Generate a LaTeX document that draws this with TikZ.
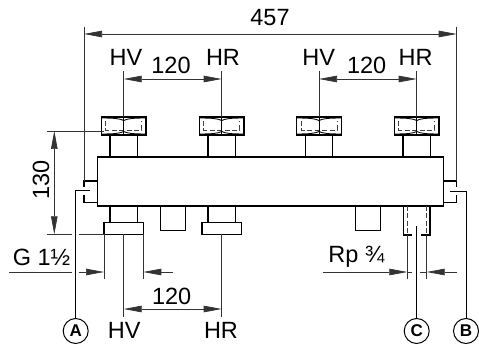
\documentclass[tikz,border=0pt]{standalone}
\usepackage{fontspec}
\setmainfont{Liberation Sans}
\usetikzlibrary{arrows.meta}
\definecolor{DIMgray}{gray}{0.2}
\tikzset{
	body/.style={black, line width=1.3pt},
	hidden/.style={black!75, line width=0.7pt, dash pattern=on 5pt off 2.5pt},
	nutline/.style={black, line width=0.9pt},
	dim/.style={DIMgray, line width=0.7pt},
	dimtip/.style={dim, {Stealth[length=18pt, width=6.5pt, inset=0pt]}-{Stealth[length=18pt, width=6.5pt, inset=0pt]}},
	righttip/.style={dim, -{Stealth[length=18pt, width=6.5pt, inset=0pt]}},
	leader/.style={black, line width=1pt},
	label/.style={font=\fontsize{23.5}{23.5}\selectfont, inner sep=0pt},
	portmark/.style={circle, draw=black, line width=1pt, minimum size=25pt, inner sep=0pt, font=\fontsize{17}{17}\selectfont\bfseries}
}
\begin{document}
\begin{tikzpicture}[x=1pt, y=-1pt]
	\useasboundingbox (0, 0) rectangle (479, 344);
	\def\ytop{157}
	\def\ybot{206}
	% manifold body
	\draw[body] (97.5, \ytop) rectangle (443.3, \ybot);
	% upper connections with nuts
	\foreach \cx in {123.7, 221.7, 319, 416.7}{
		\draw[body] (\cx - 13.7, \ytop) -- (\cx - 13.7, 135);
		\draw[body] (\cx + 13.7, \ytop) -- (\cx + 13.7, 135);
		\draw[hidden] (\cx - 18, 121) -- (\cx - 18, 130) -- (\cx + 18, 130) -- (\cx + 18, 121);
		\draw[nutline] (\cx - 22, 118) .. controls (\cx - 10, 118) and (\cx - 4, 118.5) .. (\cx, 120.5);
		\draw[nutline] (\cx + 22, 118) .. controls (\cx + 10, 118) and (\cx + 4, 118.5) .. (\cx, 120.5);
		\draw[nutline] (\cx - 22, 134) .. controls (\cx - 10, 134) and (\cx - 4, 133.5) .. (\cx, 131.5);
		\draw[nutline] (\cx + 22, 134) .. controls (\cx + 10, 134) and (\cx + 4, 133.5) .. (\cx, 131.5);
		\draw[nutline] (\cx, 117) -- (\cx, 135);
		\draw[body] (\cx - 22.4, 117) rectangle (\cx + 22.4, 135);
	}
	% lower connections with flange
	\foreach \cx in {123.7, 221.7}{
		\draw[body] (\cx - 13.7, \ybot) -- (\cx - 13.7, 222.3);
		\draw[body] (\cx + 13.7, \ybot) -- (\cx + 13.7, 222.3);
		\draw[body] (\cx - 19.6, 222.3) rectangle (\cx + 19.6, 234.3);
	}
	% closed stubs
	\foreach \sx in {160.7, 355.7}{
		\draw[body] (\sx, \ybot) -- (\sx, 230.3) -- (\sx + 24.5, 230.3) -- (\sx + 24.5, \ybot);
	}
	% port C
	\draw[body] (412, 235) -- (403.7, 235) -- (403.7, \ybot);
	\draw[body] (421, 235) -- (430, 235) -- (430, \ybot);
	\draw[hidden] (407.3, \ybot) -- (407.3, 235);
	\draw[hidden] (426.4, \ybot) -- (426.4, 235);
	% side sockets
	\draw[body] (97.5, 181) -- (84, 181) -- (84, 187);
	\draw[body] (84, 195) -- (84, 202.7) -- (97.5, 202.7);
	\draw[body] (443.3, 181) -- (456.7, 181) -- (456.7, 187);
	\draw[body] (456.7, 195) -- (456.7, 202.7) -- (443.3, 202.7);
	% overall width
	\draw[dim] (84, 26.7) -- (84, 181);
	\draw[dim] (456.7, 26.7) -- (456.7, 181);
	\draw[dimtip] (84, 34) -- (456.7, 34);
	\node[label] (total) at (270, 18) {457};
	% upper spacing
	\foreach \cx in {123.7, 221.7, 319, 416.7}{
		\draw[dim] (\cx, 70.7) -- (\cx, 117);
	}
	\draw[dimtip] (123.7, 79) -- (221.7, 79);
	\draw[dimtip] (319, 79) -- (416.7, 79);
	\node[label] (spaceA) at (171, 65) {120};
	\node[label] (spaceB) at (366.7, 65) {120};
	\node[label] (hvA) at (126, 57.5) {HV};
	\node[label] (hrA) at (223, 57.5) {HR};
	\node[label] (hvB) at (318.7, 57.5) {HV};
	\node[label] (hrB) at (415.7, 57.5) {HR};
	% height
	\draw[dim] (46.5, 131) -- (104, 131);
	\draw[dim] (46.5, 234.3) -- (71.7, 234.3);
	\draw[dim] (79.3, 234.3) -- (104, 234.3);
	\draw[dimtip] (54.3, 131) -- (54.3, 234.3);
	\node[label, rotate=90] (height) at (41, 180) {130};
	% G 1 1/2
	\draw[dim] (104, 234.3) -- (104, 279);
	\draw[dim] (143.3, 234.3) -- (143.3, 279);
	\draw[dim] (9, 272) -- (72, 272);
	\draw[righttip] (79.3, 272) -- (104, 272);
	\draw[righttip] (173, 272) -- (143.3, 272);
	\node[label] (thread) at (41.5, 257.7) {G 1½};
	% lower spacing
	\draw[dim] (123.7, 234.3) -- (123.7, 316.7);
	\draw[dim] (221.7, 234.3) -- (221.7, 316.7);
	\draw[dimtip] (123.7, 309) -- (221.7, 309);
	\node[label] (spaceC) at (171.7, 296) {120};
	\node[label] (hvC) at (124.3, 330.5) {HV};
	\node[label] (hrC) at (221, 330.5) {HR};
	% Rp 3/4
	\draw[dim] (407.3, 235) -- (407.3, 279);
	\draw[dim] (426.7, 235) -- (426.7, 279);
	\draw[righttip] (322.7, 272) -- (407.3, 272);
	\draw[dim] (407.3, 272) -- (411.7, 272);
	\draw[dim] (420, 272) -- (426.7, 272);
	\draw[righttip] (456.7, 272) -- (426.7, 272);
	\node[label] (socket) at (356.5, 257) {Rp ¾};
	% port marks
	\node[portmark] (A) at (75.7, 331) {A};
	\node[portmark] (B) at (466, 331) {B};
	\node[portmark] (C) at (416.7, 331) {C};
	\coordinate (Atip) at (90, 190.7);
	\coordinate (Bstart) at (450, 191.7);
	\coordinate (Cstart) at (416.7, 226.5);
	\draw[leader] (Atip) -- (75.7, 190.7) -- (A);
	\draw[leader] (Bstart) -- (466, 191.7) -- (B);
	\draw[leader] (Cstart) -- (C);
\end{tikzpicture}
\end{document}
